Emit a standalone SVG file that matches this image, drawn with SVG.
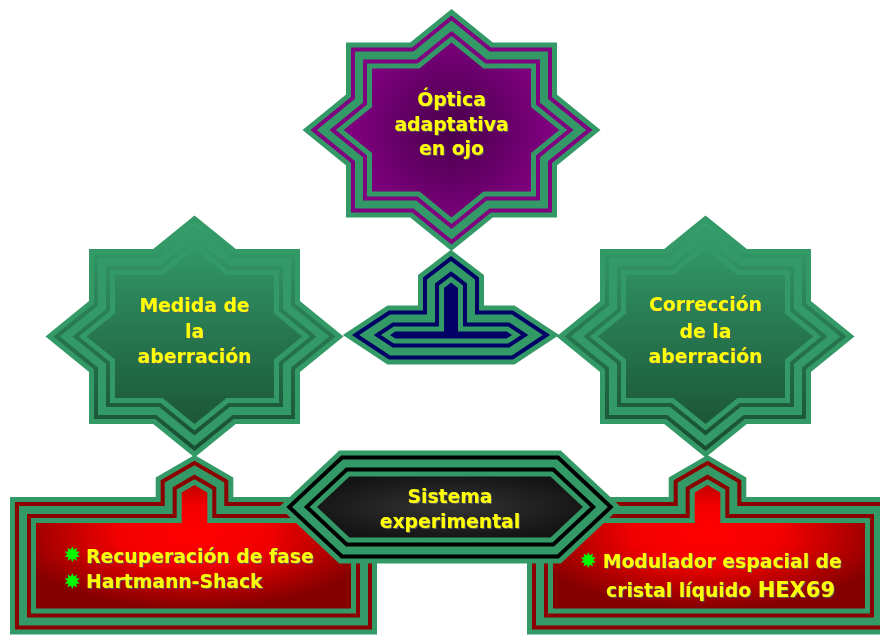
<svg xmlns="http://www.w3.org/2000/svg" xmlns:xlink="http://www.w3.org/1999/xlink" width="880" height="635" viewBox="0 0 880 635">
  <style>
    .l1 { fill: none; stroke: #339966; stroke-width: 52; }
    .l3 { fill: none; stroke: #339966; stroke-width: 34; }
    .l5 { fill: none; stroke: #339966; stroke-width: 10; }
    .l2 { fill: none; stroke-width: 42; }
    .l4 { fill: none; stroke-width: 18; }
    .core { stroke: none; }
    .purple .l2, .purple .l4 { stroke: #800080; }
    .purple .core { fill: url(#gPurple); }
    .green .l2, .green .l4 { stroke: url(#gGreen); }
    .green .core { fill: url(#gGreen); }
    .navy .l2, .navy .l4 { stroke: #000066; }
    .navy .core { fill: #000066; }
    .red .l2, .red .l4 { stroke: #8b0000; }
    .red .core { fill: url(#gRed); }
    .dark .l2, .dark .l4 { stroke: #000000; }
    .dark .core { fill: url(#gDark); }
    .t { font-family: "DejaVu Sans", Verdana, sans-serif; font-weight: bold; font-size: 18.8px; fill: #ffff00; filter: url(#ts); }
    .c { text-anchor: middle; }
    .bullet { fill: #00ff00; }
  </style>
  <defs>
    <radialGradient id="gPurple" gradientUnits="userSpaceOnUse" cx="0" cy="0" r="100">
      <stop offset="0" stop-color="#48004a"/>
      <stop offset="1" stop-color="#800080"/>
    </radialGradient>
    <linearGradient id="gGreen" gradientUnits="userSpaceOnUse" x1="0" y1="-121" x2="0" y2="121">
      <stop offset="0" stop-color="#36a26f"/>
      <stop offset="1" stop-color="#174a2f"/>
    </linearGradient>
    <radialGradient id="gRed" cx="0.5" cy="0.4" r="0.6">
      <stop offset="0" stop-color="#ff0000"/>
      <stop offset="0.4" stop-color="#f20000"/>
      <stop offset="1" stop-color="#840000"/>
    </radialGradient>
    <radialGradient id="gDark" cx="0.5" cy="0.5" r="0.55">
      <stop offset="0" stop-color="#343434"/>
      <stop offset="1" stop-color="#141414"/>
    </radialGradient>
    <filter id="ts" x="-10%" y="-20%" width="120%" height="150%">
      <feDropShadow dx="1" dy="1" stdDeviation="0.4" flood-color="#606060" flood-opacity="0.9"/>
    </filter>
    <!-- eight-point star, inner fill outline centred on the origin -->
    <path id="star" d="M0,-87.5 L32,-61.5 L79.5,-61.5 L79.5,-23 L107.8,0 L79.5,23 L79.5,61.5 L32,61.5 L0,87.5 L-32,61.5 L-79.5,61.5 L-79.5,23 L-107.8,0 L-79.5,-23 L-79.5,-61.5 L-32,-61.5 Z"/>
    <path id="tee" d="M451,282.5 L458,287.9 L458,331.5 L506.7,331.5 L512,335 L506.7,338.5 L395.3,338.5 L390,335 L395.3,331.5 L444,331.5 L444,287.9 Z"/>
    <path id="hex" d="M317,507 L349.5,476.5 L550.5,476.5 L583,507 L550.5,537.5 L349.5,537.5 Z"/>
    <path id="boxL" d="M36,523 L181.7,523 L181.7,492.4 L194.5,485 L207.3,492.4 L207.3,523 L351,523 L351,608.5 L36,608.5 Z"/>
    <path id="boxR" d="M553,523 L694.7,523 L694.7,492.4 L707.5,485 L720.3,492.4 L720.3,523 L865,523 L865,608.5 L553,608.5 Z"/>
    <!-- ten-point burst used as list bullet -->
    <polygon id="bul" points="0,-8 1.48,-4.57 4.70,-6.47 3.88,-2.82 7.61,-2.47 4.8,0 7.61,2.47 3.88,2.82 4.70,6.47 1.48,4.57 0,8 -1.48,4.57 -4.70,6.47 -3.88,2.82 -7.61,2.47 -4.8,0 -7.61,-2.47 -3.88,-2.82 -4.70,-6.47 -1.48,-4.57"/>
  </defs>

  <rect width="880" height="635" fill="#ffffff"/>

  <!-- lower panels -->
  <g id="node-recuperacion" class="red">
    <use href="#boxL" class="l1"/>
    <use href="#boxL" class="l2"/>
    <use href="#boxL" class="l3"/>
    <use href="#boxL" class="l4"/>
    <use href="#boxL" class="l5"/>
    <use href="#boxL" class="core"/>
    <use href="#bul" class="bullet" x="72.3" y="554.3"/>
    <use href="#bul" class="bullet" x="72.3" y="581"/>
    <text class="t" x="86" y="563.3">Recuperación de fase</text>
    <text class="t" x="86" y="588.3">Hartmann-Shack</text>
  </g>

  <g id="node-modulador" class="red">
    <use href="#boxR" class="l1"/>
    <use href="#boxR" class="l2"/>
    <use href="#boxR" class="l3"/>
    <use href="#boxR" class="l4"/>
    <use href="#boxR" class="l5"/>
    <use href="#boxR" class="core"/>
    <use href="#bul" class="bullet" x="588.3" y="560"/>
    <text class="t" x="602.7" y="568.3">Modulador espacial de</text>
    <text class="t" x="606" y="596.7">cristal líquido <tspan font-size="21">HEX69</tspan></text>
  </g>

  <!-- T-shaped link joining the three stars -->
  <g id="connectors" class="navy">
    <use href="#tee" class="l1"/>
    <use href="#tee" class="l2"/>
    <use href="#tee" class="l3"/>
    <use href="#tee" class="l4"/>
    <use href="#tee" class="l5"/>
    <use href="#tee" class="core"/>
  </g>

  <g id="node-optica" class="purple">
    <g transform="translate(451.5,130)">
      <use href="#star" class="l1"/>
      <use href="#star" class="l2"/>
      <use href="#star" class="l3"/>
      <use href="#star" class="l4"/>
      <use href="#star" class="l5"/>
      <use href="#star" class="core"/>
    </g>
    <text class="t c" x="451.5" y="106">Óptica</text>
    <text class="t c" x="451.5" y="130.5">adaptativa</text>
    <text class="t c" x="451.5" y="155">en ojo</text>
  </g>

  <g id="node-medida" class="green">
    <g transform="translate(194.5,336.5)">
      <use href="#star" class="l1"/>
      <use href="#star" class="l2"/>
      <use href="#star" class="l3"/>
      <use href="#star" class="l4"/>
      <use href="#star" class="l5"/>
      <use href="#star" class="core"/>
    </g>
    <text class="t c" x="194.5" y="311.7">Medida de</text>
    <text class="t c" x="194.5" y="337.7">la</text>
    <text class="t c" x="194.5" y="363.3">aberración</text>
  </g>

  <g id="node-correccion" class="green">
    <g transform="translate(705.5,336.5)">
      <use href="#star" class="l1"/>
      <use href="#star" class="l2"/>
      <use href="#star" class="l3"/>
      <use href="#star" class="l4"/>
      <use href="#star" class="l5"/>
      <use href="#star" class="core"/>
    </g>
    <text class="t c" x="705.5" y="311">Corrección</text>
    <text class="t c" x="705.5" y="337.7">de la</text>
    <text class="t c" x="705.5" y="363.3">aberración</text>
  </g>

  <g id="node-sistema" class="dark">
    <use href="#hex" class="l1"/>
    <use href="#hex" class="l2"/>
    <use href="#hex" class="l3"/>
    <use href="#hex" class="l4"/>
    <use href="#hex" class="l5"/>
    <use href="#hex" class="core"/>
    <text class="t c" x="450" y="503.3">Sistema</text>
    <text class="t c" x="450" y="528.3">experimental</text>
  </g>
</svg>
